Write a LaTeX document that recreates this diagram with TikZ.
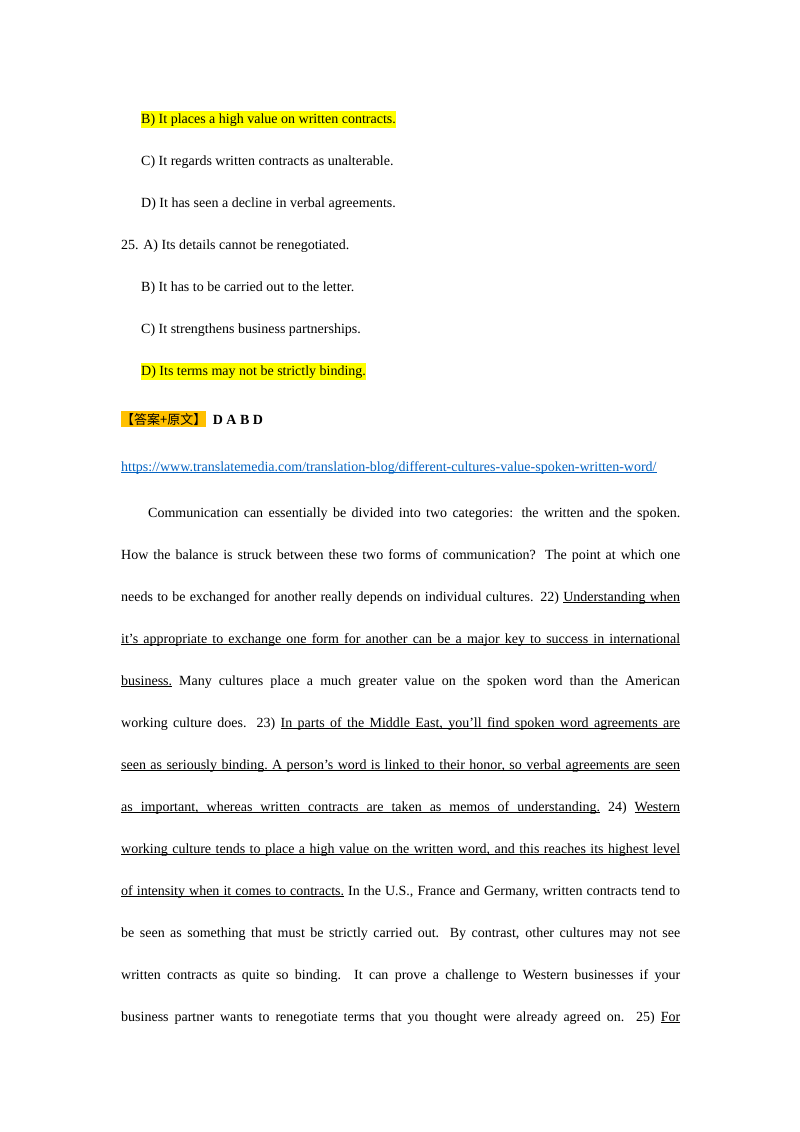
\documentclass[tikz,border=0pt]{standalone}
\usepackage{fontspec}
\setmainfont{Liberation Serif}
\newfontfamily\cjk{Noto Sans CJK SC}
\definecolor{hl}{HTML}{FFFF00}
\definecolor{ans}{HTML}{FFC000}
\definecolor{lnk}{HTML}{0563C1}
\newsavebox\ulbox
\def\ulstop{}
\def\ulstopmark{\ulstop{}}
\def\ulword#1{\sbox\ulbox{#1}\rlap{\vrule height -1.3pt depth 2.1pt width\wd\ulbox}\usebox\ulbox}
\def\ulsp{\leaders\hrule height -1.3pt depth 2.1pt\hskip\fontdimen2\font plus\fontdimen3\font minus\fontdimen4\font\relax}
\def\ulA#1 {\def\ultmp{#1}\ifx\ultmp\ulstopmark\else\ulword{#1}\expandafter\ulB\fi}
\def\ulB#1 {\def\ultmp{#1}\ifx\ultmp\ulstopmark\else\ulsp\ulword{#1}\expandafter\ulB\fi}
\def\uline#1{\ulA#1 \ulstop{} }
\newcommand{\jl}[1]{\parbox[b]{559pt}{\parfillskip=0pt\relax\strut #1}}
\tikzset{ln/.style={anchor=base west,inner sep=0pt,font=\fontsize{14pt}{16pt}\selectfont},
 hlt/.style={ln,fill=hl,inner ysep=2pt}}
\begin{document}
\begin{tikzpicture}[x=1pt,y=1pt]
\useasboundingbox (0,0) rectangle (800,-1132);
\node[hlt] (b1) at (141,-123) {B) It places a high value on written contracts.};
\node[ln] (c1) at (141,-165) {C) It regards written contracts as unalterable.};
\node[ln] (d1) at (141,-207) {D) It has seen a decline in verbal agreements.};
\node[ln] (a2) at (121,-249) {25. A) Its details cannot be renegotiated.};
\node[ln] (b2) at (141,-291) {B) It has to be carried out to the letter.};
\node[ln] (c2) at (141,-333) {C) It strengthens business partnerships.};
\node[hlt] (d2) at (141,-375) {D) Its terms may not be strictly binding.};
\node[ln,fill=ans,inner ysep=2pt,font=\cjk\fontsize{13pt}{15pt}\selectfont] (ak) at (121,-424) {【答案+原文】};
\node[ln,font=\bfseries\fontsize{14pt}{16pt}\selectfont,anchor=base west] (ab) at ([xshift=6pt]ak.base east) {D A B D};
\node[ln,text=lnk] (url) at (121,-471) {\uline{https://www.translatemedia.com/translation-blog/different-cultures-value-spoken-written-word/}};
\node[ln] (p1) at (148,-517) {\parbox[b]{532pt}{\parfillskip=0pt\relax\strut Communication can essentially be divided into two categories: the written and the spoken.}};
\node[ln] (p2) at (121,-559) {\jl{How the balance is struck between these two forms of communication? The point at which one}};
\node[ln] (p3) at (121,-601) {\jl{needs to be exchanged for another really depends on individual cultures. 22) \uline{Understanding when}}};
\node[ln] (p4) at (121,-643) {\jl{\uline{it's appropriate to exchange one form for another can be a major key to success in international}}};
\node[ln] (p5) at (121,-685) {\jl{\uline{business.} Many cultures place a much greater value on the spoken word than the American}};
\node[ln] (p6) at (121,-727) {\jl{working culture does. 23) \uline{In parts of the Middle East, you'll find spoken word agreements are}}};
\node[ln] (p7) at (121,-769) {\jl{\uline{seen as seriously binding. A person's word is linked to their honor, so verbal agreements are seen}}};
\node[ln] (p8) at (121,-811) {\jl{\uline{as important, whereas written contracts are taken as memos of understanding.} 24) \uline{Western}}};
\node[ln] (p9) at (121,-853) {\jl{\uline{working culture tends to place a high value on the written word, and this reaches its highest level}}};
\node[ln] (p10) at (121,-895) {\jl{\uline{of intensity when it comes to contracts.} In the U.S., France and Germany, written contracts tend to}};
\node[ln] (p11) at (121,-937) {\jl{be seen as something that must be strictly carried out. By contrast, other cultures may not see}};
\node[ln] (p12) at (121,-979) {\jl{written contracts as quite so binding. It can prove a challenge to Western businesses if your}};
\node[ln] (p13) at (121,-1021) {\jl{business partner wants to renegotiate terms that you thought were already agreed on. 25) \uline{For}}};
\end{tikzpicture}
\end{document}
